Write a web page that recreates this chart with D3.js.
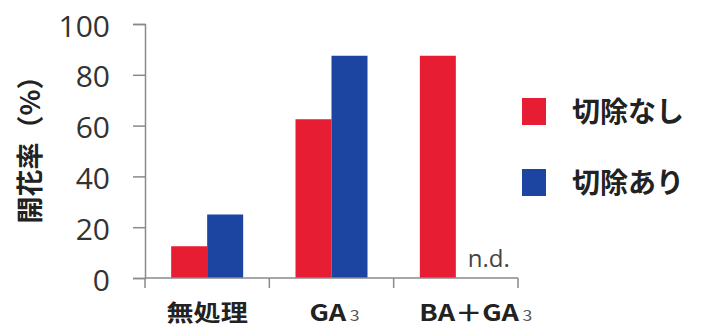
<!DOCTYPE html>
<html>
<head>
<meta charset="utf-8">
<script src="https://cdn.jsdelivr.net/npm/d3@7"></script>
<style>
  body { margin: 0; background: #fff; }
  svg text { font-family: "Noto Sans CJK JP", "Open Sans", sans-serif; }
</style>
</head>
<body>
<svg width="701" height="327"></svg>
<script>
var categories = ["無処理", "GA3", "BA+GA3"];
var seriesNames = ["切除なし", "切除あり"];
var uncut = [12.5, 62.5, 87.5];
var cut = [25, 87.5, null];   // null = n.d.
var yTicks = [0, 20, 40, 60, 80, 100];
var colors = ["#e61d33", "#1b45a0"];

var svg = d3.select("svg");
var plotL = 145, plotR = 518, plotT = 24, plotB = 278;

var x = d3.scaleBand().domain(categories).range([plotL, plotR]);
var sub = d3.scaleBand().domain(seriesNames).range([0, 72]);
var y = d3.scaleLinear().domain([0, 100]).range([plotB, plotT]);

var data = categories.map(function(c, i) {
  return { cat: c, values: [uncut[i], cut[i]] };
});

// bars
var grp = svg.selectAll(".grp").data(data).enter().append("g")
  .attr("transform", function(d) { return "translate(" + (x(d.cat) + x.bandwidth() / 2 - 36) + ",0)"; });

grp.selectAll("rect")
  .data(function(d) { return d.values.map(function(v, i) { return { name: seriesNames[i], v: v, i: i }; }).filter(function(e) { return e.v != null; }); })
  .enter().append("rect")
  .attr("x", function(d) { return sub(d.name); })
  .attr("width", sub.bandwidth())
  .attr("y", function(d) { return y(d.v); })
  .attr("height", function(d) { return y(0) - y(d.v); })
  .attr("fill", function(d) { return colors[d.i]; });

// n.d. label where missing
data.forEach(function(d) {
  if (d.values[1] == null) {
    svg.append("text")
      .attr("x", x(d.cat) + x.bandwidth() / 2 + 12)
      .attr("y", plotB - 11)
      .style("font-family", "'Open Sans', sans-serif")
      .style("font-size", "24px")
      .attr("fill", "#444")
      .text("n.d.");
  }
});

// y axis
var yAxis = svg.append("g").attr("transform", "translate(" + plotL + ",0)")
  .call(d3.axisLeft(y).tickValues(yTicks).tickSize(12).tickPadding(23));
yAxis.select(".domain").attr("stroke", "#8a8a8a").attr("stroke-width", 1.5);
yAxis.selectAll(".tick line").attr("stroke", "#8a8a8a").attr("stroke-width", 1.5);
yAxis.selectAll("text")
  .style("font-family", "'Open Sans', sans-serif")
  .style("font-size", "30px")
  .attr("dy", "0.4em")
  .attr("fill", "#333");

// x axis
var xAxis = svg.append("g").attr("transform", "translate(0," + plotB + ")");
xAxis.append("line").attr("x1", plotL).attr("x2", plotR).attr("stroke", "#8a8a8a").attr("stroke-width", 1.5);
var xTicks = categories.map(function(c) { return x(c); }).concat([plotR]);
xAxis.selectAll(".xt").data(xTicks).enter().append("line")
  .attr("x1", function(d) { return d; }).attr("x2", function(d) { return d; })
  .attr("y1", 0).attr("y2", 10)
  .attr("stroke", "#8a8a8a").attr("stroke-width", 1.5);

var labelShift = [0, 3, 20];
var labels = xAxis.selectAll(".xl").data(categories).enter().append("g")
  .attr("transform", function(d, i) { return "translate(" + (x(d) + x.bandwidth() / 2 + labelShift[i]) + ",43) scale(1.18,1)"; })
  .append("text")
  .attr("text-anchor", "middle")
  .style("font-size", "23px")
  .style("font-weight", "bold")
  .attr("fill", "#222");
labels.each(function(d) {
  var t = d3.select(this);
  var m = d.match(/^(.*?)(\d)$/);
  if (m) {
    t.append("tspan").text(m[1].replace("+", "＋"));
    t.append("tspan").attr("dx", 3).style("font-size", "15px").style("font-weight", "normal").attr("fill", "#555").text(m[2]);
  } else {
    t.text(d);
  }
});

// y title
svg.append("text")
  .attr("transform", "translate(30," + 143 + ") rotate(-90)")
  .attr("text-anchor", "middle")
  .attr("dy", "0.36em")
  .style("font-size", "27px")
  .style("font-weight", "bold")
  .attr("fill", "#222")
  .text("開花率（%）");

// legend
var legend = svg.selectAll(".lg").data(seriesNames).enter().append("g")
  .attr("transform", function(d, i) { return "translate(522," + (98 + i * 71) + ")"; });
legend.append("rect").attr("width", 24).attr("height", 27)
  .attr("fill", function(d, i) { return colors[i]; });
legend.append("text").attr("x", 50).attr("y", 14).attr("dy", "0.36em")
  .style("font-size", "28px")
  .style("font-weight", "bold")
  .attr("fill", "#222")
  .text(function(d) { return d; });
</script>
</body>
</html>
